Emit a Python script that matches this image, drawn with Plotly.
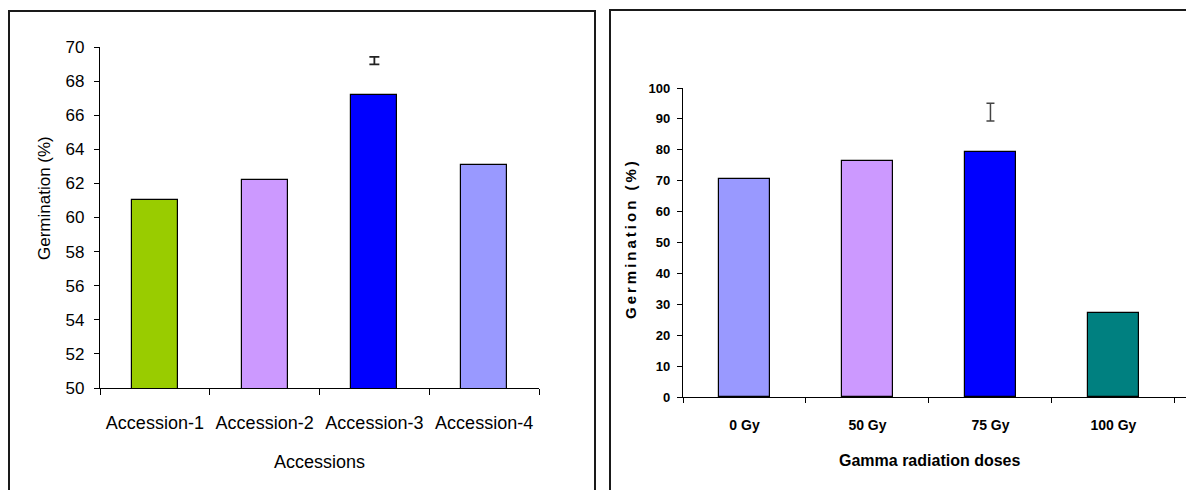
import plotly.graph_objects as go

W, H = 1186, 490

# ---- data ----
accessions = ["Accession-1", "Accession-2", "Accession-3", "Accession-4"]
acc_germination = [61.0, 62.2, 67.2, 63.1]
acc_colors = ["#99CC00", "#CC99FF", "#0000FF", "#9999FF"]
acc_err_cat = ["Accession-3"]
acc_err_val = [69.2]
acc_err_size = [0.22]

doses = ["0 Gy", "50 Gy", "75 Gy", "100 Gy"]
dose_germination = [70.4, 76.5, 79.3, 27.1]
dose_colors = ["#9999FF", "#CC99FF", "#0000FF", "#008080"]
dose_err_cat = ["75 Gy"]
dose_err_val = [92.2]
dose_err_size = [2.9]

def px(x):
    return x / W

def py(y):
    return 1 - y / H

REG = "Liberation Sans, Arial, sans-serif"

fig = go.Figure()

fig.add_trace(go.Bar(x=accessions, y=acc_germination, marker=dict(color=acc_colors, line=dict(color="#000000", width=1.2)),
                     width=0.42, xaxis="x", yaxis="y", showlegend=False, hoverinfo="skip"))
fig.add_trace(go.Scatter(x=acc_err_cat, y=acc_err_val, mode="markers", marker=dict(size=1, color="rgba(0,0,0,0)"),
                         error_y=dict(type="data", array=acc_err_size, color="#222222", thickness=1.8, width=5),
                         xaxis="x", yaxis="y", showlegend=False, hoverinfo="skip"))

fig.add_trace(go.Bar(x=doses, y=dose_germination, marker=dict(color=dose_colors, line=dict(color="#000000", width=1.2)),
                     width=0.41, xaxis="x2", yaxis="y2", showlegend=False, hoverinfo="skip"))
fig.add_trace(go.Scatter(x=dose_err_cat, y=dose_err_val, mode="markers", marker=dict(size=1, color="rgba(0,0,0,0)"),
                         error_y=dict(type="data", array=dose_err_size, color="#444444", thickness=1.5, width=4),
                         xaxis="x2", yaxis="y2", showlegend=False, hoverinfo="skip"))

fig.update_layout(
    width=W, height=H, autosize=False,
    margin=dict(l=0, r=0, t=0, b=0, pad=0),
    paper_bgcolor="white", plot_bgcolor="white",
    bargap=0,
    xaxis=dict(domain=[px(100), px(539)], anchor="y", range=[-0.5, 3.5], type="category", automargin=False,
               showline=True, linecolor="#000000", linewidth=1.2, ticks="outside", ticklen=6, tickcolor="#000000",
               tickson="boundaries", showgrid=False, tickangle=0,
               tickfont=dict(family=REG, size=18, color="#000000"), ticklabelstandoff=18),
    yaxis=dict(domain=[py(388), py(47)], anchor="x", range=[50, 70], dtick=2, automargin=False,
               showline=True, linecolor="#000000", linewidth=1.2, ticks="outside", ticklen=5, tickcolor="#000000",
               showgrid=False, zeroline=False,
               tickfont=dict(family=REG, size=17, color="#000000"), ticklabelstandoff=6),
    xaxis2=dict(domain=[px(683), 1.0], anchor="y2", range=[-0.5, 3.59], type="category", automargin=False,
                showline=True, linecolor="#000000", linewidth=1.2, ticks="outside", ticklen=5, tickcolor="#000000",
                tickson="boundaries", showgrid=False, tickangle=0,
                tickfont=dict(family=REG, size=14, color="#000000", weight="bold"), ticklabelstandoff=15),
    yaxis2=dict(domain=[py(397), py(88)], anchor="x2", range=[0, 100], dtick=10, automargin=False,
                showline=True, linecolor="#000000", linewidth=1.2, ticks="outside", ticklen=5, tickcolor="#000000",
                showgrid=False, zeroline=False,
                tickfont=dict(family=REG, size=13, color="#000000", weight="bold"), ticklabelstandoff=4),
    shapes=[
        dict(type="rect", xref="paper", yref="paper", x0=px(9), x1=px(595), y0=-0.1, y1=py(11),
             line=dict(color="#1a1a1a", width=2), fillcolor="rgba(0,0,0,0)", layer="below"),
        dict(type="rect", xref="paper", yref="paper", x0=px(610), x1=1.05, y0=-0.1, y1=py(10),
             line=dict(color="#1a1a1a", width=2), fillcolor="rgba(0,0,0,0)", layer="below"),
    ],
    annotations=[
        dict(text="Germination (%)", xref="paper", yref="paper", x=px(45), y=py(198), textangle=-90,
             showarrow=False, xanchor="center", yanchor="middle",
             font=dict(family=REG, size=17, color="#000000")),
        dict(text="Accessions", xref="paper", yref="paper", x=px(319), y=py(462),
             showarrow=False, xanchor="center", yanchor="middle",
             font=dict(family=REG, size=18, color="#000000")),
        dict(text="<span style='letter-spacing:3px'>Germination (%)</span>", xref="paper", yref="paper",
             x=px(630), y=py(239), textangle=-90,
             showarrow=False, xanchor="center", yanchor="middle",
             font=dict(family=REG, size=15, color="#000000", weight="bold")),
        dict(text="Gamma radiation doses", xref="paper", yref="paper", x=px(929), y=py(460),
             showarrow=False, xanchor="center", yanchor="middle",
             font=dict(family=REG, size=16, color="#000000", weight="bold")),
    ],
)

fig.write_html("out.html",
               config={"responsive": False, "displayModeBar": False},
               post_script="document.body.style.margin='0';document.body.style.overflow='hidden';")
